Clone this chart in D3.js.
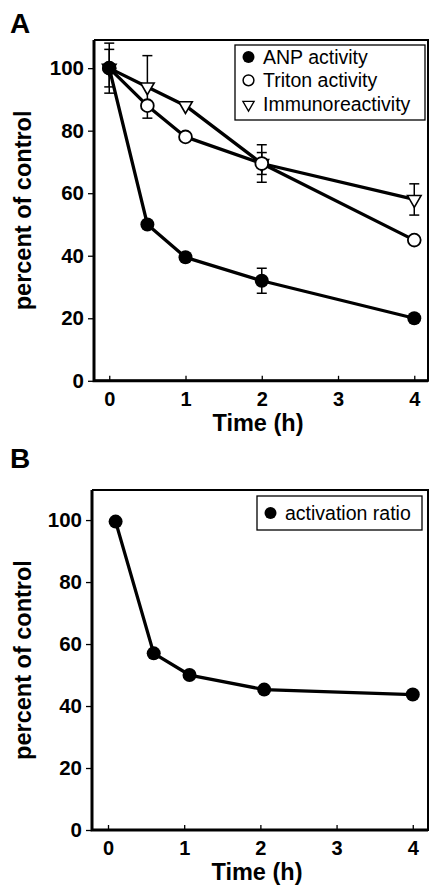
<!DOCTYPE html>
<html>
<head>
<meta charset="utf-8">
<script src="https://cdn.jsdelivr.net/npm/d3@7"></script>
<style>
  body { margin: 0; background: #fff; }
  svg { display: block; font-family: "Liberation Sans", Arial, sans-serif; }
</style>
</head>
<body>
<svg id="chart" width="430" height="885"></svg>
<script>
// panel A
const timesA = [0, 0.5, 1, 2, 4];
const anp = [100, 50, 39.5, 32, 20];
const anpErr = [8, 0, 0, 4, 0];
const triton = [100, 88, 78, 69.5, 45];
const tritonErr = [0, 0, 0, 3.5, 0];
const immuno = [100, 94, 88, 69.5, 58];
const immunoErr = [6, 10, 0, 6, 5];
const legendA = ['ANP activity', 'Triton activity', 'Immunoreactivity'];

// panel B
const timesB = [0.1, 0.6, 1.07, 2.05, 4];
const ratio = [99.5, 57, 50, 45.3, 43.7];
const legendB = ['activation ratio'];

const xTicks = [0, 1, 2, 3, 4];
const yTicks = [0, 20, 40, 60, 80, 100];

const svg = d3.select('#chart');

function zip(xs, ys, es) {
    return xs.map((x, i) => ({x: x, y: ys[i], e: es ? es[i] : 0}));
}

function buildPanel(opt) {
    let g = svg.append('g');
    let xScale = d3.scaleLinear().domain(opt.xDomain).range([opt.left, opt.right]);
    let yScale = d3.scaleLinear().domain(opt.yDomain).range([opt.bottom, opt.top]);

    // frame
    g.append('path')
        .attr('d', `M${opt.left},${opt.bottom}H${opt.right}V${opt.top}H${opt.left}`)
        .attr('fill', 'none').attr('stroke', '#000').attr('stroke-width', 2);
    g.append('path')
        .attr('d', `M${opt.left},${opt.top}V${opt.bottom}H${opt.right}`)
        .attr('fill', 'none').attr('stroke', '#000').attr('stroke-width', 3);

    // x axis: ticks pointing inward
    let xAxis = d3.axisBottom(xScale).tickValues(xTicks).tickSize(-5).tickPadding(11).tickFormat(d3.format('d'));
    let xg = g.append('g').attr('transform', `translate(0,${opt.bottom})`).call(xAxis);
    xg.select('.domain').remove();
    xg.selectAll('line').attr('stroke-width', 1.3);
    xg.selectAll('text').attr('font-size', 20).attr('font-weight', 'bold').attr('fill', '#000')
        .attr('font-family', '"Liberation Sans", Arial, sans-serif');

    let yAxis = d3.axisLeft(yScale).tickValues(yTicks).tickSize(6).tickPadding(4);
    let yg = g.append('g').attr('transform', `translate(${opt.left},0)`).call(yAxis);
    yg.select('.domain').remove();
    yg.selectAll('line').attr('stroke-width', 1.3);
    yg.selectAll('text').attr('font-size', 20.5).attr('font-weight', 'bold').attr('fill', '#000')
        .attr('font-family', '"Liberation Sans", Arial, sans-serif');

    // axis titles
    g.append('text')
        .attr('transform', `translate(${opt.ylabelX},${(opt.top + opt.bottom) / 2}) rotate(-90)`)
        .attr('text-anchor', 'middle')
        .attr('font-size', 23.5).attr('font-weight', 'bold')
        .text('percent of control');
    g.append('text')
        .attr('x', (opt.left + opt.right) / 2 - 3).attr('y', opt.titleY)
        .attr('text-anchor', 'middle')
        .attr('font-size', 23.5).attr('font-weight', 'bold')
        .text('Time (h)');
    g.append('text')
        .attr('x', 10).attr('y', opt.letterY)
        .attr('font-size', 28).attr('font-weight', 'bold')
        .text(opt.letter);

    let line = d3.line().x(d => xScale(d.x)).y(d => yScale(d.y));

    opt.series.forEach(s => {
        g.append('path')
            .attr('d', line(s.data))
            .attr('fill', 'none').attr('stroke', '#000').attr('stroke-width', 3.3)
            .attr('stroke-linejoin', 'round');
    });

    // error bars
    opt.series.forEach(s => {
        let eb = g.append('g').attr('stroke', '#000').attr('stroke-width', 1.5);
        s.data.filter(d => d.e > 0).forEach(d => {
            let cx = xScale(d.x), y1 = yScale(d.y + d.e), y2 = yScale(d.y - d.e);
            eb.append('line').attr('x1', cx).attr('x2', cx).attr('y1', y1).attr('y2', y2);
            eb.append('line').attr('x1', cx - 5).attr('x2', cx + 5).attr('y1', y1).attr('y2', y1);
            eb.append('line').attr('x1', cx - 5).attr('x2', cx + 5).attr('y1', y2).attr('y2', y2);
        });
    });

    // markers, last series drawn first
    opt.series.slice().reverse().forEach(s => {
        s.data.forEach(d => {
            drawMarker(g, s.marker, xScale(d.x), yScale(d.y));
        });
    });

    // legend
    let lg = g.append('g');
    lg.append('rect')
        .attr('x', opt.legend.x).attr('y', opt.legend.y)
        .attr('width', opt.legend.w).attr('height', opt.legend.h)
        .attr('fill', '#fff').attr('stroke', '#000').attr('stroke-width', 1.3);
    opt.series.forEach((s, i) => {
        let by = opt.legend.y + opt.legend.first + i * 23.3;
        drawMarker(lg, s.marker, opt.legend.x + 13.5, by - 7, true);
        lg.append('text')
            .attr('x', opt.legend.x + 28).attr('y', by)
            .attr('font-size', 19.5)
            .text(s.name);
    });
}

function drawMarker(g, type, x, y, small) {
    let r = small ? 6 : 7;
    if (type === 'filled') {
        g.append('circle').attr('cx', x).attr('cy', y).attr('r', r).attr('fill', '#000');
    } else if (type === 'open') {
        g.append('circle').attr('cx', x).attr('cy', y).attr('r', r - 0.6)
            .attr('fill', '#fff').attr('stroke', '#000').attr('stroke-width', small ? 1.5 : 1.8);
    } else {
        let sym = d3.symbol(d3.symbolTriangle, small ? 55 : 80);
        g.append('path').attr('d', sym())
            .attr('transform', `translate(${x},${y + (small ? 1 : 0)}) rotate(180)`)
            .attr('fill', '#fff').attr('stroke', '#000').attr('stroke-width', small ? 1.3 : 1.6);
    }
}

buildPanel({
    letter: 'A', letterY: 33,
    left: 94, right: 428, top: 40, bottom: 380.8,
    xDomain: [-0.2, 4.18], yDomain: [0, 109],
    ylabelX: 31, titleY: 431,
    legend: {x: 235, y: 45, w: 190, h: 75, first: 19},
    series: [
        {name: legendA[0], marker: 'filled', data: zip(timesA, anp, anpErr)},
        {name: legendA[1], marker: 'open', data: zip(timesA, triton, tritonErr)},
        {name: legendA[2], marker: 'tri', data: zip(timesA, immuno, immunoErr)}
    ]
});

buildPanel({
    letter: 'B', letterY: 468,
    left: 92, right: 428, top: 490, bottom: 830,
    xDomain: [-0.21, 4.2], yDomain: [0, 109.7],
    ylabelX: 31, titleY: 880,
    legend: {x: 257, y: 496, w: 165, h: 34, first: 24},
    series: [
        {name: legendB[0], marker: 'filled', data: zip(timesB, ratio)}
    ]
});
</script>
</body>
</html>
